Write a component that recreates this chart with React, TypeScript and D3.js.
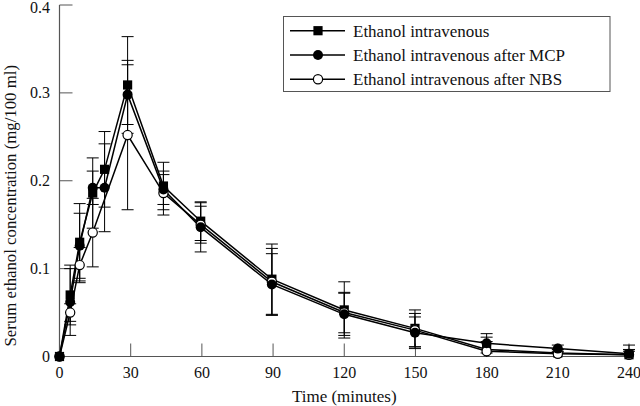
import React from "react";
import * as d3 from "d3";

const times = [0, 4.5, 8.5, 14, 19, 28.7, 43.8, 59.5, 89.5, 120, 149.8, 180, 210, 240];
const ivMean = [0, 0.07, 0.13, 0.186, 0.213, 0.309, 0.194, 0.154, 0.088, 0.053, 0.032, 0.008, 0.004, 0.002];
const ivSD = [0, 0.034, 0.044, 0.04, 0.043, 0.055, 0.027, 0.022, 0.04, 0.032, 0.021, 0.014, 0.004, 0.006];
const mcpMean = [0, 0.062, 0.126, 0.192, 0.192, 0.298, 0.19, 0.147, 0.082, 0.048, 0.027, 0.015, 0.009, 0.003];
const mcpSD = [0, 0.038, 0.037, 0.019, 0.05, 0.034, 0.017, 0.028, 0.035, 0.024, 0.018, 0.011, 0.004, 0.01];
const nbsMean = [0, 0.05, 0.104, 0.141, null, 0.252, 0.186, 0.15, 0.085, 0.05, 0.03, 0.006, 0.003, 0.002];
const nbsSD = [0, 0.01, 0.02, 0.039, null, 0.085, 0.025, 0.021, 0.038, 0.023, 0.019, 0.011, 0.003, 0.004];

const xTicks = [0, 30, 60, 90, 120, 150, 180, 210, 240];
const yTicks = [0, 0.1, 0.2, 0.3, 0.4];
const yTickLabels = ["0", "0.1", "0.2", "0.3", "0.4"];

const seriesNames = [
  "Ethanol intravenous",
  "Ethanol intravenous after MCP",
  "Ethanol intravenous after NBS",
];

type Kind = "square" | "filled" | "open";
const series: { name: string; kind: Kind; mean: (number | null)[]; sd: (number | null)[] }[] = [
  { name: seriesNames[0], kind: "square", mean: ivMean, sd: ivSD },
  { name: seriesNames[1], kind: "filled", mean: mcpMean, sd: mcpSD },
  { name: seriesNames[2], kind: "open", mean: nbsMean, sd: nbsSD },
];
// drawing order of markers (filled circles on top)
const drawOrder = [0, 2, 1];

const FONT = "'Liberation Serif', 'Times New Roman', serif";
const AXIS = "#555";

function Marker({ kind, cx, cy }: { kind: Kind; cx: number; cy: number }) {
  if (kind === "square") {
    return <rect x={cx - 4.6} y={cy - 4.6} width={9.2} height={9.2} fill="#000" />;
  }
  if (kind === "filled") {
    return <circle cx={cx} cy={cy} r={5} fill="#000" />;
  }
  return <circle cx={cx} cy={cy} r={4.6} fill="#fff" stroke="#000" strokeWidth={1.2} />;
}

export default function App() {
  const W = 640;
  const H = 406;
  const x = d3.scaleLinear().domain([0, 240]).range([59.5, 629]);
  const y = d3.scaleLinear().domain([0, 0.4]).range([356.5, 5]);

  const line = d3
    .line<[number, number]>()
    .x((d) => x(d[0]))
    .y((d) => y(d[1]));

  return (
    <svg
      width={W}
      height={H}
      style={{ position: "absolute", left: 0, top: 0, background: "#fff" }}
      fontFamily={FONT}
    >
      <rect width={W} height={H} fill="#fff" />
      {/* axes */}
      <line x1={x(0)} x2={x(240)} y1={y(0)} y2={y(0)} stroke={AXIS} strokeWidth={1.2} />
      <line x1={x(0)} x2={x(0)} y1={y(0)} y2={y(0.4)} stroke={AXIS} strokeWidth={1.2} />
      {xTicks.map((t) => (
        <g key={"xt" + t}>
          {t > 0 && (
            <line x1={x(t)} x2={x(t)} y1={y(0)} y2={y(0) - 13} stroke={AXIS} strokeWidth={1} />
          )}
          <text x={x(t)} y={377.5} textAnchor="middle" fontSize={16} fill="#111">
            {t}
          </text>
        </g>
      ))}
      {yTicks.map((t, i) => (
        <g key={"yt" + t}>
          {t > 0 && (
            <line x1={x(0)} x2={x(0) + 13} y1={y(t)} y2={y(t)} stroke={AXIS} strokeWidth={1} />
          )}
          <text x={50} y={Math.max(y(t) + 5.5, 12.5)} textAnchor="end" fontSize={16} fill="#111">
            {yTickLabels[i]}
          </text>
        </g>
      ))}
      <text x={(x(0) + x(240)) / 2} y={402} textAnchor="middle" fontSize={17} fill="#111">
        Time (minutes)
      </text>
      <text
        transform={`translate(15.5,${y(0.2) + 25}) rotate(-90)`}
        textAnchor="middle"
        fontSize={16.8}
        fill="#111"
      >
        Serum ethanol concentration (mg/100 ml)
      </text>

      {/* error bars */}
      {series.map((s) =>
        s.mean.map((m, i) => {
          const sd = s.sd[i];
          if (m == null || sd == null || sd === 0) return null;
          const top = y(m + sd);
          const bot = y(Math.max(0, m - sd));
          const cx = x(times[i]);
          return (
            <g key={s.kind + "e" + i} stroke="#000" strokeWidth={1}>
              <line x1={cx} x2={cx} y1={top} y2={bot} />
              <line x1={cx - 6} x2={cx + 6} y1={top} y2={top} />
              {m - sd > 0 && <line x1={cx - 6} x2={cx + 6} y1={bot} y2={bot} />}
            </g>
          );
        })
      )}

      {/* lines */}
      {series.map((s) => {
        const pts: [number, number][] = [];
        s.mean.forEach((m, i) => {
          if (m != null) pts.push([times[i], m]);
        });
        return (
          <path key={s.kind + "l"} d={line(pts) || ""} fill="none" stroke="#000" strokeWidth={1.5} />
        );
      })}

      {/* markers */}
      {drawOrder.map((si) => {
        const s = series[si];
        return s.mean.map((m, i) =>
          m == null ? null : <Marker key={s.kind + "m" + i} kind={s.kind} cx={x(times[i])} cy={y(m)} />
        );
      })}

      {/* legend */}
      <rect x={283.5} y={16.5} width={326.5} height={75} fill="#fff" stroke={AXIS} strokeWidth={1} />
      {series.map((s, i) => {
        const ly = 30.7 + i * 24.3;
        return (
          <g key={"lg" + i}>
            <line x1={290} x2={345} y1={ly} y2={ly} stroke="#000" strokeWidth={1.5} />
            <Marker kind={s.kind} cx={318} cy={ly} />
            <text x={353} y={ly + 5.8} fontSize={17} fill="#111">
              {s.name}
            </text>
          </g>
        );
      })}
    </svg>
  );
}
